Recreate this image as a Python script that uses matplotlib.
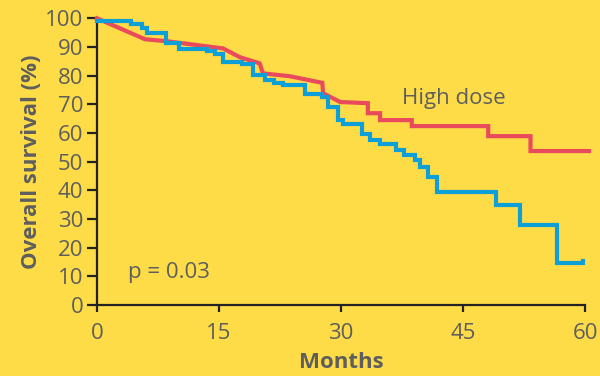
import matplotlib.pyplot as plt

# high dose curve, months / survival %
high_x = [0, 5.9, 8.6, 15.5, 17.6, 20.0, 20.4, 23.7, 27.7, 27.8, 29.9, 33.3, 33.3, 34.8, 34.8,
          38.7, 38.7, 48.1, 48.1, 53.3, 53.3, 60.5]
high_y = [100, 92.7, 92.0, 89.5, 86.4, 84.3, 80.8, 79.8, 77.5, 73.9, 70.8, 70.4, 66.9, 66.9, 64.5,
          64.5, 62.4, 62.4, 58.9, 58.9, 53.7, 53.7]

# low dose curve, step points (steps-post)
low_x = [0, 4.2, 5.5, 6.1, 8.5, 10.1, 13.5, 14.5, 15.5, 17.8, 19.2, 20.7, 21.7, 22.9, 25.6, 27.7,
         28.4, 29.6, 30.3, 32.6, 33.6, 34.8, 36.7, 37.7, 39.1, 39.7, 40.7, 41.8, 49.0, 52.0,
         56.6, 59.8]
low_y = [99.2, 97.9, 96.6, 95.0, 91.5, 89.4, 88.6, 87.7, 84.8, 84.0, 80.1, 78.4, 77.5, 76.7,
         73.7, 72.4, 69.1, 64.5, 63.3, 59.6, 57.5, 56.1, 54.2, 52.3, 50.5, 48.0, 44.7, 39.5,
         34.8, 27.9, 14.7, 15.5]

x_ticks = [0, 15, 30, 45, 60]
y_ticks = list(range(0, 101, 10))

bg = '#FEDC48'
grey = '#5E5E5E'
red = '#E94A5C'
blue = '#0C9FD8'
font = 'Open Sans'
fs = 16

fig = plt.figure(figsize=(6, 3.76), dpi=100, facecolor=bg)
ax = fig.add_axes([0.1617, 0.1888, 0.8133, 0.7625])
ax.set_facecolor(bg)

ax.plot(high_x, high_y, color=red, lw=3, clip_on=False, solid_joinstyle='miter', zorder=3)
ax.plot(low_x, low_y, color=blue, lw=3, drawstyle='steps-post', clip_on=False,
        solid_joinstyle='miter', zorder=4)

ax.set_xlim(0, 60)
ax.set_ylim(0, 100)
ax.set_xticks(x_ticks)
ax.set_yticks(y_ticks)

for s in ['top', 'right']:
    ax.spines[s].set_visible(False)
for s in ['left', 'bottom']:
    ax.spines[s].set_color('#222222')
    ax.spines[s].set_linewidth(1.6)

ax.tick_params(axis='y', direction='out', length=7, width=1.6, color='#222222',
               labelsize=fs, labelcolor=grey, pad=3)
ax.tick_params(axis='x', direction='out', length=5, width=1.6, color='#222222',
               labelsize=fs, labelcolor=grey, pad=8)
for lab in ax.get_xticklabels() + ax.get_yticklabels():
    lab.set_family(font)

ax.set_ylabel('Overall survival (%)', fontsize=fs, fontweight='bold', color=grey,
              family=font, labelpad=2)
ax.set_xlabel('Months', fontsize=fs, fontweight='bold', color=grey, family=font, labelpad=6)

ax.text(37.5, 72, 'High dose', fontsize=fs, color=grey, family=font, va='center')
ax.text(3.8, 11.5, 'p = 0.03', fontsize=fs, color=grey, family=font, va='center')

fig.savefig('out.png', dpi=100, facecolor=bg)
